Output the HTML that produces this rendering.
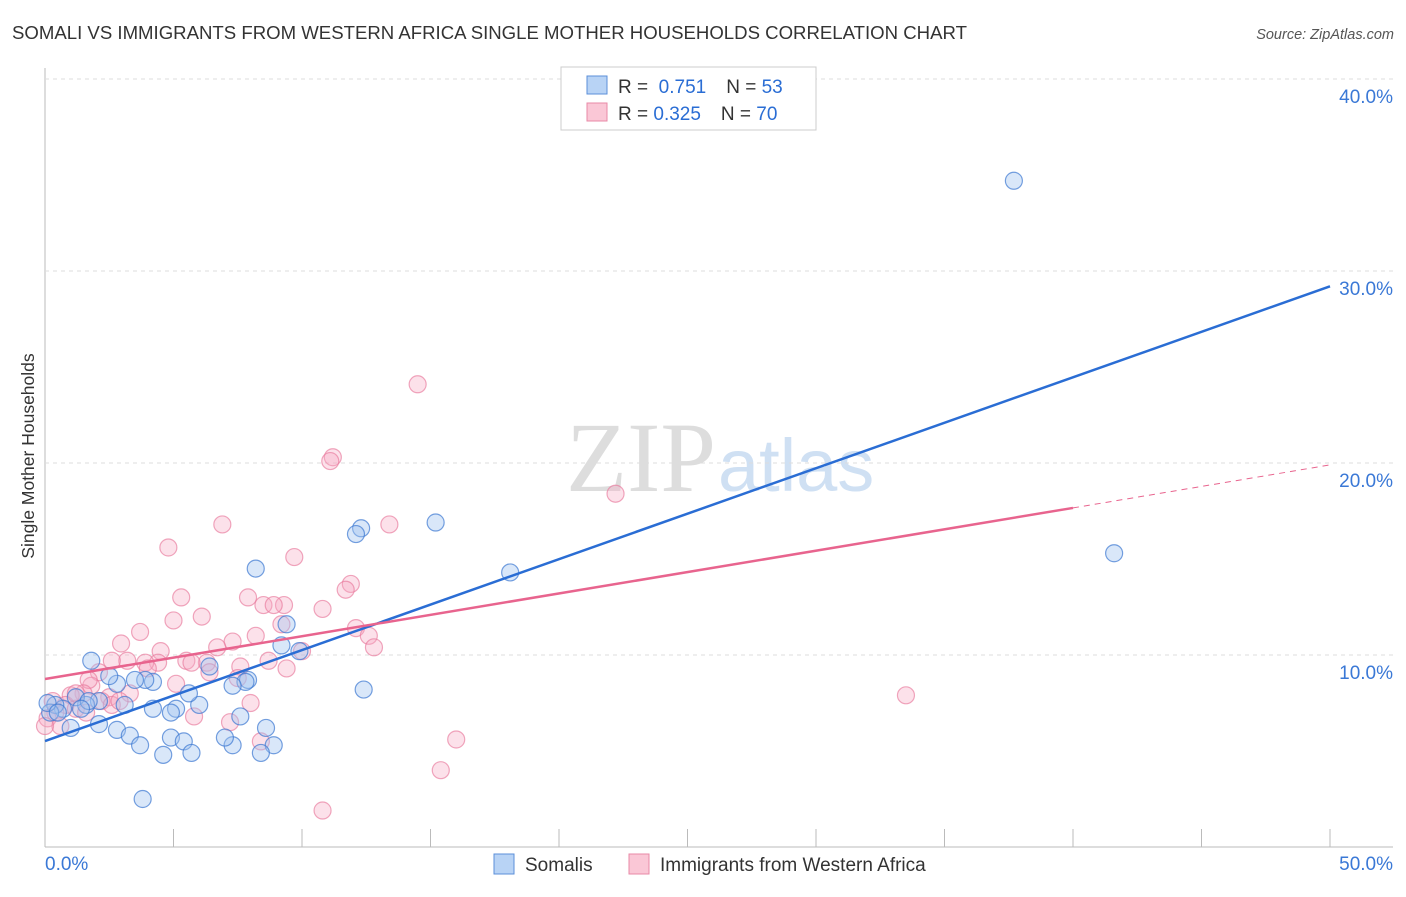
<!DOCTYPE html>
<html><head><meta charset="utf-8"><style>
body{margin:0;background:#fff;font-family:"Liberation Sans",sans-serif}
svg text{font-family:"Liberation Sans",sans-serif}
</style></head><body>
<svg id="c" width="1406" height="892">
<text x="12" y="39" font-size="18.6" fill="#333">SOMALI VS IMMIGRANTS FROM WESTERN AFRICA SINGLE MOTHER HOUSEHOLDS CORRELATION CHART</text>
<text x="1394" y="39" font-size="14.5" fill="#555" font-style="italic" text-anchor="end">Source: ZipAtlas.com</text>
<text x="716" y="491" font-size="100" fill="#ddd" text-anchor="end" style="font-family:'Liberation Serif',serif">ZIP</text>
<text x="718" y="491" font-size="74" fill="#cfe0f3">atlas</text>
<g id="grid"></g><g id="pts"></g><g id="lines"></g>
<text transform="translate(34,456) rotate(-90)" font-size="17.5" fill="#333" text-anchor="middle">Single Mother Households</text>
<g>
<rect x="561" y="67" width="255" height="63" fill="#fff" stroke="#ccc"/>
<rect x="587" y="76" width="20" height="18" fill="#b8d3f5" stroke="#5b8fd9"/>
<rect x="587" y="103" width="20" height="18" fill="#fac7d6" stroke="#e88aa7"/>
<text x="618" y="93" font-size="19" fill="#333">R = <tspan fill="#2a6dd4">&#160;0.751</tspan><tspan dx="20" fill="#333">N = </tspan><tspan fill="#2a6dd4"> 53</tspan></text>
<text x="618" y="120" font-size="19" fill="#333">R = <tspan fill="#2a6dd4">0.325</tspan><tspan dx="20" fill="#333">N = </tspan><tspan fill="#2a6dd4"> 70</tspan></text>
</g>
<g>
<rect x="494" y="854" width="20" height="20" fill="#b8d3f5" stroke="#5b8fd9"/>
<text x="525" y="871" font-size="19" fill="#333">Somalis</text>
<rect x="629" y="854" width="20" height="20" fill="#fac7d6" stroke="#e88aa7"/>
<text x="660" y="871" font-size="19" fill="#333">Immigrants from Western Africa</text>
</g>
</svg>
<script>
const xTicks=[0,5,10,15,20,25,30,35,40,45,50];
const yTicks=[10,20,30,40];
const yTickLabels=["10.0%","20.0%","30.0%","40.0%"];
const somaliX=[37.7,41.6,15.2,18.1,12.3,12.1,8.2,9.4,9.2,9.9,12.4,7.9,7.8,7.3,7.6,8.6,8.9,8.4,7.3,7.0,6.0,5.6,5.1,4.9,4.2,4.2,3.9,3.5,2.8,2.5,1.8,3.1,2.1,1.6,1.2,0.7,0.4,0.2,1.0,2.1,2.8,3.3,3.7,4.6,4.9,5.4,5.7,6.4,3.8,0.1,0.5,1.7,1.4];
const somaliY=[34.7,15.3,16.9,14.3,16.6,16.3,14.5,11.6,10.5,10.2,8.2,8.7,8.6,8.4,6.8,6.2,5.3,4.9,5.3,5.7,7.4,8.0,7.2,7.0,7.2,8.6,8.7,8.7,8.5,8.9,9.7,7.4,7.6,7.4,7.8,7.2,7.4,7.0,6.2,6.4,6.1,5.8,5.3,4.8,5.7,5.5,4.9,9.4,2.5,7.5,7.0,7.6,7.2];
const waX=[14.5,11.2,11.1,22.2,13.4,6.9,4.8,9.7,11.9,11.7,5.3,7.9,9.3,8.5,8.9,10.8,6.1,5.0,9.2,3.7,2.96,7.3,8.2,6.7,12.1,12.6,12.8,10.0,4.5,4.4,5.5,6.3,5.7,3.9,3.2,2.6,2.1,4.0,7.6,8.7,9.4,6.4,7.5,5.1,1.8,1.7,3.3,2.5,1.5,1.0,2.2,2.6,8.0,5.8,7.2,8.4,16.0,15.4,10.8,33.5,0.8,0.4,0.1,0.6,1.2,1.6,2.9,1.2,0.0,0.3];
const waY=[24.1,20.3,20.1,18.4,16.8,16.8,15.6,15.1,13.7,13.4,13.0,13.0,12.6,12.6,12.6,12.4,12.0,11.8,11.6,11.2,10.6,10.7,11.0,10.4,11.4,11.0,10.4,10.2,10.2,9.6,9.7,9.6,9.6,9.6,9.7,9.7,9.1,9.3,9.4,9.7,9.3,9.1,8.8,8.5,8.4,8.7,8.0,7.8,8.0,7.9,7.6,7.4,7.5,6.8,6.5,5.5,5.6,4.0,1.9,7.9,7.4,7.0,6.7,6.3,7.2,7.0,7.6,8.0,6.3,7.6];
const somaliTrend=[5.52,29.2];
const waTrend=[8.75,17.66,19.9];
const X=v=>45+v*25.7, Y=v=>847-v*19.2;
const NS="http://www.w3.org/2000/svg";
function mk(tag,attrs,parent){const e=document.createElementNS(NS,tag);for(const k in attrs)e.setAttribute(k,attrs[k]);parent.appendChild(e);return e;}
const grid=document.getElementById('grid');
let ax=mk('line',{x1:45,y1:68,x2:45,y2:847,stroke:'#bbb'},grid);


let bx=mk('line',{x1:45,y1:847,x2:1393,y2:847,stroke:'#bbb'},grid);


yTicks.forEach((t,i)=>{
 const g=mk('line',{x1:45,y1:Y(t),x2:1393,y2:Y(t),stroke:'#ddd','stroke-dasharray':'4,4'},grid);
 
 
 const l=mk('text',{x:1393,y:Y(t)+24,'font-size':19,fill:'#3a78d6','text-anchor':'end'},grid);
 l.textContent=yTickLabels[i];
 
 
});
xTicks.forEach(t=>{
 const tk=mk('line',{x1:X(t),y1:829,x2:X(t),y2:847,stroke:'#bbb'},grid);
 
 
});
const x0=mk('text',{x:45,y:870,'font-size':19,fill:'#3a78d6'},grid);x0.textContent='0.0%';


const x1=mk('text',{x:1393,y:870,'font-size':19,fill:'#3a78d6','text-anchor':'end'},grid);x1.textContent='50.0%';


const pts=document.getElementById('pts');
waX.forEach((v,i)=>{const c=mk('circle',{cx:X(v),cy:Y(waY[i]),r:8.5,fill:'rgba(247,170,195,0.35)',stroke:'rgba(232,120,155,0.65)','stroke-width':1.2},pts);
 
 });
somaliX.forEach((v,i)=>{const c=mk('circle',{cx:X(v),cy:Y(somaliY[i]),r:8.5,fill:'rgba(160,195,240,0.4)',stroke:'rgba(60,120,210,0.7)','stroke-width':1.2},pts);
 
 });
const lines=document.getElementById('lines');
let sl=mk('line',{x1:X(0),y1:Y(somaliTrend[0]),x2:X(50),y2:Y(somaliTrend[1]),stroke:'#2a6dd4','stroke-width':2.5},lines);


let wl=mk('line',{x1:X(0),y1:Y(waTrend[0]),x2:X(40),y2:Y(waTrend[1]),stroke:'#e8648e','stroke-width':2.5},lines);


let wd=mk('line',{x1:X(40),y1:Y(waTrend[1]),x2:X(50),y2:Y(waTrend[2]),stroke:'#e8648e','stroke-width':1,'stroke-dasharray':'6,5'},lines);


</script>
</body></html>
